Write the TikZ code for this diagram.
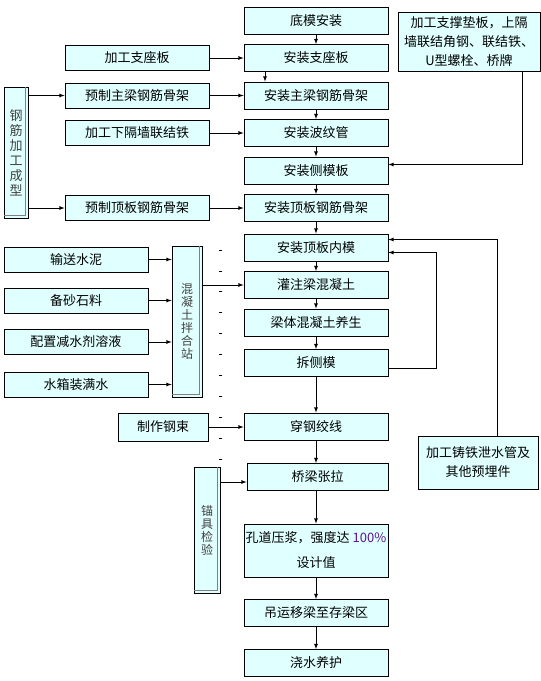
\documentclass[tikz,border=0pt]{standalone}
\usepackage{fontspec}
\setmainfont{Noto Sans CJK SC}
\usetikzlibrary{arrows}
\definecolor{boxfill}{RGB}{224,255,255}
\definecolor{pctcolor}{RGB}{90,20,140}
\tikzstyle{stepbox} = [rectangle, minimum width=144pt, minimum height=27pt, inner sep=0pt, text centered, draw=black, fill=boxfill, font=\fontsize{13}{17}\selectfont]
\tikzstyle{sidebox} = [rectangle, minimum width=144pt, minimum height=25pt, inner sep=0pt, text centered, draw=black, fill=boxfill, font=\fontsize{13}{17}\selectfont]
\tikzstyle{notebox} = [rectangle, inner sep=0pt, align=center, draw=black, fill=boxfill, font=\fontsize{13}{19}\selectfont]
\tikzstyle{vbox} = [rectangle, inner sep=0pt, text width=13pt, align=center, draw=black, fill=boxfill, text=black!75, font=\fontsize{12}{13}\selectfont]
\tikzstyle{arrow} = [->,>=latex]
\begin{document}
\begin{tikzpicture}[x=1pt, y=1pt, node distance=37.5pt, line width=0.8pt]
\useasboundingbox (0,0) rectangle (541,-681);
% main column
\node (b1) [stepbox] at (316,-20.5) {底模安装};
\node (b2) [stepbox, below of=b1] {安装支座板};
\node (b3) [stepbox, below of=b2] {安装主梁钢筋骨架};
\node (b4) [stepbox, below of=b3] {安装波纹管};
\node (b5) [stepbox, below of=b4] {安装侧模板};
\node (b6) [stepbox, below of=b5] {安装顶板钢筋骨架};
\node (b7) [stepbox, below of=b6, yshift=-2pt] {安装顶板内模};
\node (b8) [stepbox, below of=b7] {灌注梁混凝土};
\node (b9) [stepbox, below of=b8] {梁体混凝土养生};
\node (b10) [stepbox, below of=b9, yshift=-3pt] {拆侧模};
\node (b11) [stepbox, below of=b10, yshift=-26pt] {穿钢绞线};
\node (b12) [stepbox, below of=b11, yshift=-13pt, xshift=1.5pt, minimum width=141pt] {桥梁张拉};
\node (b13) [stepbox, below of=b12, yshift=-36pt, xshift=-1.5pt, minimum height=53pt, align=center, font=\fontsize{13}{25}\selectfont] {孔道压浆，强度达 \textcolor{pctcolor}{100\%}\\设计值};
\node (b14) [stepbox, below of=b13, yshift=-25pt] {吊运移梁至存梁区};
\node (b15) [stepbox, below of=b14, yshift=-12.5pt] {浇水养护};
% steel work
\node (s1) [sidebox, left of=b2, xshift=-141.5pt] {加工支座板};
\node (s2) [sidebox, left of=b3, xshift=-141.5pt] {预制主梁钢筋骨架};
\node (s3) [sidebox, left of=b4, xshift=-141.5pt] {加工下隔墙联结铁};
\node (s4) [sidebox, left of=b6, xshift=-141.5pt] {预制顶板钢筋骨架};
\node (gj) [vbox, minimum width=24pt, minimum height=131pt, font=\fontsize{13}{15}\selectfont] at (16,-152.5) {钢\\筋\\加\\工\\成\\型};
\node (tr) [notebox, minimum width=142pt, minimum height=59pt] at (469,-41.5) {加工支撑垫板，上隔\\墙联结角钢、联结铁、\\U型螺栓、桥牌};
% concrete
\node (c1) [sidebox] at (76,-259.5) {输送水泥};
\node (c2) [sidebox] at (76,-300.5) {备砂石料};
\node (c3) [sidebox] at (76,-342) {配置减水剂溶液};
\node (c4) [sidebox] at (76,-384.5) {水箱装满水};
\node (mix) [vbox, minimum width=30pt, minimum height=151pt] at (187,-321.5) {混\\凝\\土\\拌\\合\\站};
% tendons
\node (gs) [sidebox, minimum width=90pt, minimum height=28pt] at (163,-427) {制作钢束};
\node (mj) [vbox, minimum width=26pt, minimum height=126pt] at (207,-530) {锚\\具\\检\\验};
\node (rb) [notebox, minimum width=120pt, minimum height=53pt] at (478,-462.5) {加工铸铁泄水管及\\其他预埋件};
% shaded edges
\foreach \n in {gj,mix,mj}
  \draw [gray, line width=0.6pt] ([xshift=-3pt]\n.north east) -- ([xshift=-3pt,yshift=3pt]\n.south east) -- ([yshift=3pt]\n.south west);
\foreach \k in {0,...,10}
  \draw [line width=0.7pt] (218.5,{-250-20.9*\k}) -- (221.5,{-250-20.9*\k});
% main arrows
\draw [arrow] (b1) -- (b2);
\draw [arrow] ([xshift=-51pt]b2.south) -- ([xshift=-51pt]b3.north);
\draw [arrow] (b3) -- (b4);
\draw [arrow] (b4) -- (b5);
\draw [arrow] (b5) -- (b6);
\draw [arrow] (b6) -- (b7);
\draw [arrow] (b7) -- (b8);
\draw [arrow] (b8) -- (b9);
\draw [arrow] (b9) -- (b10);
\draw [arrow] (b10) -- (b11);
\draw [arrow] (b11.south) -- (b11.south |- b12.north);
\draw [arrow] (b12.south -| b11) -- (b13.north);
\draw [arrow] (b13) -- (b14);
\draw [arrow] (b14) -- (b15);
% side arrows
\draw [arrow] (s1) -- (s1 -| b2.west);
\draw [arrow] (s2) -- (s2 -| b3.west);
\draw [arrow] (s3) -- (s3 -| b4.west);
\draw [arrow] (s4) -- (s4 -| b6.west);
\draw [arrow] (gj.east |- s2) -- (s2);
\draw [arrow] (gj.east |- s4) -- (s4);
\draw [arrow] ([xshift=53pt]tr.south) |- ([yshift=6pt]b5.east);
\draw [arrow] (c1) -- (c1 -| mix.west);
\draw [arrow] (c2) -- (c2 -| mix.west);
\draw [arrow] (c3) -- (c3 -| mix.west);
\draw [arrow] (c4) -- (c4 -| mix.west);
\draw [arrow] (mix.east |- b8) -- (b8);
\draw [arrow] (gs) -- (gs -| b11.west);
\draw [arrow] ([yshift=-5pt]mj.east |- b12.west) -- ([yshift=-5pt]b12.west);
\draw [arrow] ([yshift=-5pt]b10.east) -- ++(48pt,0) |- ([yshift=-5pt]b7.east);
\draw [arrow] ([xshift=19pt]rb.north) |- ([yshift=8pt]b7.east);
\end{tikzpicture}
\end{document}
